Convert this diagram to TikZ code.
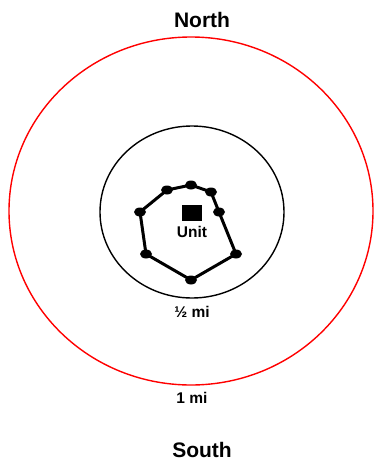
\documentclass[tikz,border=0pt]{standalone}
\usepackage{fontspec}
\setmainfont{Liberation Sans}
\begin{document}
\begin{tikzpicture}[x=1pt,y=-1pt,
  lbl/.style={font=\bfseries\fontsize{15.5}{18}\selectfont, inner sep=0pt},
  big/.style={font=\bfseries\fontsize{21}{24}\selectfont, inner sep=0pt},
  ring/.style={line width=1.4pt}]
\useasboundingbox (0,0) rectangle (374,463);
\draw[ring, red] (191,211) ellipse [x radius=182, y radius=174];
\draw[ring, black] (192,212) ellipse [x radius=92, y radius=86];
\foreach \n/\x/\y in {p1/140/212, p2/167/190, p3/191/185, p4/211/192, p5/219/212, p6/236/254, p7/191/280, p8/146/254}
  \coordinate (\n) at (\x,\y);
\draw[line width=3pt, line join=round] (p1) -- (p2) -- (p3) -- (p4) -- (p5) -- (p6) -- (p7) -- (p8) -- cycle;
\foreach \n in {p1,p2,p3,p4,p5,p6,p7,p8}
  \fill (\n) ellipse [x radius=6, y radius=4.5];
\node[fill=black, minimum width=20pt, minimum height=16pt, inner sep=0pt] (unit) at (192,213) {};
\node[lbl] (unitlbl) at (192,232) {Unit};
\node[lbl] (half) at (192,312) {½ mi};
\node[lbl] (one) at (192,398) {1 mi};
\node[big] (north) at (202,20) {North};
\node[big] (south) at (202,450) {South};
\end{tikzpicture}
\end{document}
